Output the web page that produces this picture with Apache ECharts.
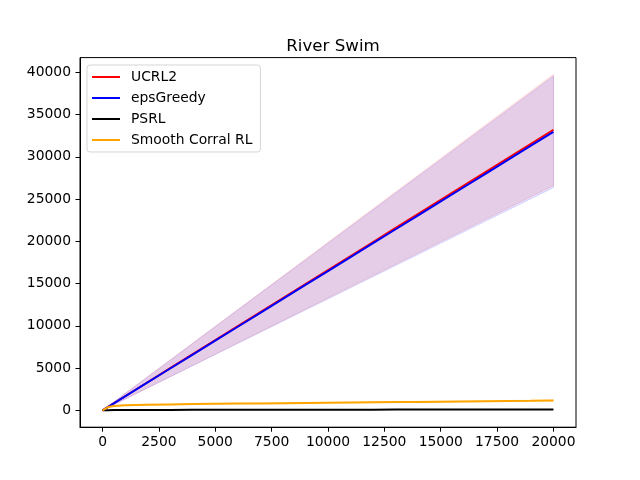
<!DOCTYPE html>
<html>
<head>
<meta charset="utf-8">
<script src="https://cdn.jsdelivr.net/npm/echarts@6/dist/echarts.min.js"></script>
<style>html,body{margin:0;padding:0;background:#fff}#c{width:640px;height:480px}</style>
</head>
<body>
<div id="c"></div>
<script>
const steps = [0,250,500,1000,2000,3000,4000,5000,6000,7000,8000,9000,10000,11000,12000,13000,14000,15000,16000,17000,18000,19000,20000];
const ucrlMean  = [0,416,832,1660,3320,4980,6640,8300,9960,11620,13280,14940,16600,18260,19920,21580,23240,24900,26560,28220,29880,31540,33200];
const ucrlUpper = [0,497,994,1990,3975,5960,7950,9940,11925,13910,15900,17890,19875,21860,23850,25840,27825,29810,31800,33790,35775,37760,39750];
const ucrlLower = [0,333,665,1330,2660,3990,5320,6650,7980,9310,10640,11970,13300,14630,15960,17290,18620,19950,21280,22610,23940,25270,26600];
const epsMean   = [0,412,824,1648,3296,4944,6592,8240,9888,11536,13184,14832,16480,18128,19776,21424,23072,24720,26368,28016,29664,31312,32960];
const epsUpper  = [0,494,989,1980,3955,5930,7910,9890,11865,13840,15820,17800,19775,21750,23730,25710,27685,29660,31640,33620,35595,37570,39550];
const epsLower  = [0,330,659,1320,2635,3955,5270,6590,7905,9225,10540,11860,13175,14495,15810,17130,18445,19765,21080,22400,23715,25035,26350];
const psrlMean  = [0,15,25,35,45,50,55,58,61,64,67,70,73,76,79,82,85,88,91,94,97,100,103];
const corralMean  = [0,380,520,600,660,700,735,765,790,815,840,865,890,915,942,969,996,1023,1050,1077,1104,1131,1160];
const corralUpper = [0,420,570,650,715,755,790,820,847,873,899,925,951,977,1004,1032,1060,1088,1116,1144,1172,1200,1230];
const corralLower = [0,340,470,550,605,645,680,710,733,757,781,805,829,853,880,906,932,958,984,1010,1036,1062,1090];
const xTicks = [0,2500,5000,7500,10000,12500,15000,17500,20000];
const yTicks = [0,5000,10000,15000,20000,25000,30000,35000,40000];
const names = ['UCRL2','epsGreedy','PSRL','Smooth Corral RL'];

const pairs = arr => steps.map((s,i)=>[s,arr[i]]);

function band(id, lower, upper, fill, edge){
  return {
    name:id+'_band', type:'custom', silent:true, z:1,
    data: steps.map((s,i)=>[s, lower[i], upper[i]]),
    encode:{x:0, y:[1,2]},
    renderItem:function(params, api){
      if (params.dataIndex !== 0) return null;
      const top = steps.map((s,i)=>api.coord([s, upper[i]]));
      const bot = steps.map((s,i)=>api.coord([s, lower[i]])).reverse();
      return {type:'polygon', shape:{points:top.concat(bot)}, style:{fill:fill, stroke:edge, lineWidth:1}};
    }
  };
}
function line(name, arr, color, z){
  return {name:name, type:'line', data:pairs(arr), symbol:'none', lineStyle:{color:color, width:2}, itemStyle:{color:color}, z:z};
}

const font = 'DejaVu Sans';
const chart = echarts.init(document.getElementById('c'), null, {renderer:'canvas'});
chart.setOption({
  animation:false,
  backgroundColor:'#fff',
  title:{text:'River Swim', left:328, top:33, textAlign:'center',
    textStyle:{fontFamily:font, fontSize:16.67, fontWeight:'normal', color:'#000'}},
  grid:{left:80, right:64, top:57.6, bottom:52.8, show:true, borderColor:'#000', borderWidth:1, backgroundColor:'transparent'},
  xAxis:{type:'value', min:-1000, max:21000,
    axisLine:{show:true, onZero:false, lineStyle:{color:'#000', width:1}},
    axisTick:{show:true, length:4.5, lineStyle:{color:'#000', width:1}, customValues:xTicks},
    axisLabel:{fontFamily:font, fontSize:13.89, color:'#000', margin:8, customValues:xTicks, formatter:v=>String(v)},
    splitLine:{show:false}},
  yAxis:{type:'value', min:-2000, max:41740,
    axisLine:{show:true, onZero:false, lineStyle:{color:'#000', width:1}},
    axisTick:{show:true, length:4.5, lineStyle:{color:'#000', width:1}, customValues:yTicks},
    axisLabel:{fontFamily:font, fontSize:13.89, color:'#000', margin:9, customValues:yTicks, formatter:v=>String(v)},
    splitLine:{show:false}},
  legend:{data:names.map(n=>({name:n, icon:'rect'})), orient:'vertical', left:87, top:65,
    itemWidth:28, itemHeight:2, itemGap:5, padding:[4,8,4,5],
    backgroundColor:'rgba(255,255,255,0.8)', borderColor:'rgba(204,204,204,0.8)', borderWidth:1, borderRadius:3,
    textStyle:{fontFamily:font, fontSize:13.89, color:'#000', lineHeight:16, padding:[0,0,0,6]}},
  series:[
    band('ucrl', ucrlLower, ucrlUpper, 'rgba(255,0,0,0.1)', 'rgba(255,0,0,0.12)'),
    band('eps', epsLower, epsUpper, 'rgba(0,0,255,0.1)', 'rgba(0,0,255,0.12)'),
    band('corral', corralLower, corralUpper, 'rgba(255,165,0,0.15)', 'rgba(255,165,0,0.15)'),
    line(names[0], ucrlMean, '#ff0000', 3),
    line(names[1], epsMean, '#0000ff', 4),
    line(names[2], psrlMean, '#000000', 5),
    line(names[3], corralMean, '#ffa500', 6)
  ]
});
</script>
</body>
</html>
